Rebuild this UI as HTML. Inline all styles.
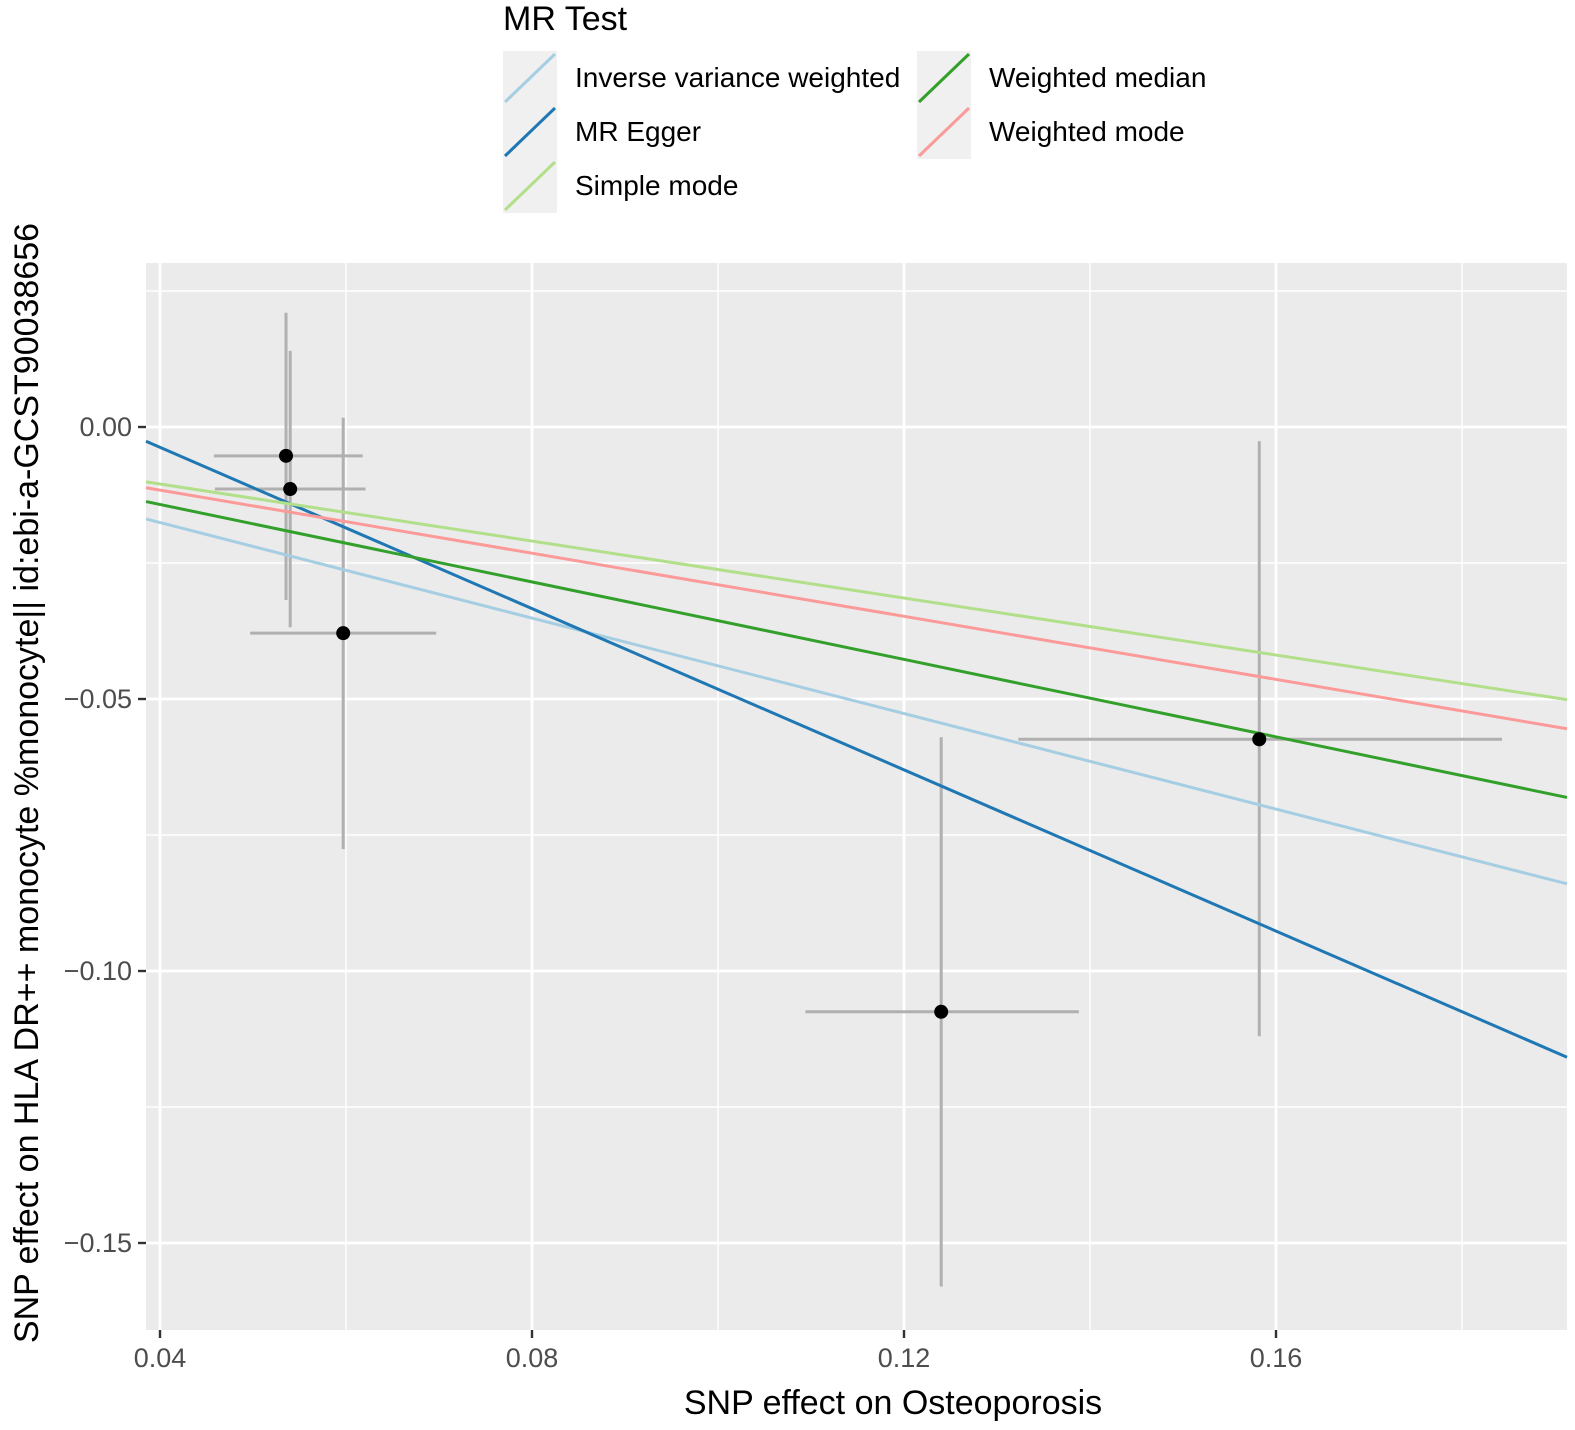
<!DOCTYPE html>
<html><head><meta charset="utf-8"><style>
html,body{margin:0;padding:0;background:#fff;}
svg{display:block;font-family:"Liberation Sans",Arial,sans-serif;}
</style></head><body>
<svg id="chart" width="1575" height="1430" viewBox="0 0 1575 1430" xmlns="http://www.w3.org/2000/svg">
<rect x="146" y="263" width="1421" height="1067" fill="#ebebeb"/>
<g id="grid"></g>
<g id="errbars"></g>
<g id="lines"></g>
<g id="points"></g>
<g id="axes"></g>
<g>
<text x="503" y="30" font-size="34" fill="#000">MR Test</text>
<g id="legend-items"></g>
</g>
<text x="893" y="1414" font-size="34" text-anchor="middle" fill="#000">SNP effect on Osteoporosis</text>
<text transform="translate(38,783) rotate(-90)" font-size="34" text-anchor="middle" fill="#000">SNP effect on HLA DR++ monocyte %monocyte|| id:ebi-a-GCST90038656</text>
</svg>
<script>
const xTicks=[0.04,0.08,0.12,0.16];
const xTickLabels=["0.04","0.08","0.12","0.16"];
const xMinor=[0.06,0.10,0.14,0.18];
const yTicks=[0,-0.05,-0.10,-0.15];
const yTickLabels=["0.00","\u22120.05","\u22120.10","\u22120.15"];
const yMinor=[0.025,-0.025,-0.075,-0.125];
const snpX=[0.05355,0.0540,0.0597,0.1240,0.1582];
const snpY=[-0.0053,-0.0114,-0.0379,-0.1075,-0.0574];
const xLo=[0.0458,0.0459,0.0497,0.1094,0.1323];
const xHi=[0.0618,0.0621,0.0697,0.1388,0.1843];
const yLo=[-0.0318,-0.0368,-0.0776,-0.1580,-0.1120];
const yHi=[0.0210,0.0140,0.0017,-0.0570,-0.0026];
const methods=["Inverse variance weighted","MR Egger","Simple mode","Weighted median","Weighted mode"];
const slopes=[-0.439,-0.741,-0.262,-0.356,-0.290];
const intercepts=[0,0.0259,0,0,0];
const colors=["#A6CEE3","#1F78B4","#B2DF8A","#33A02C","#FB9A99"];

const X0=146,X1=1567,Y0=263,Y1=1330;
const xs=v=>160+(v-0.04)*9300;
const ys=v=>427-v*5440;
const xmin=0.04-(160-X0)/9300, xmax=0.04+(X1-160)/9300;
const NS="http://www.w3.org/2000/svg";
function mk(tag,attrs,parent){const e=document.createElementNS(NS,tag);for(const k in attrs)e.setAttribute(k,attrs[k]);parent.appendChild(e);return e;}
const grid=document.getElementById('grid');
xMinor.forEach(v=>{const l=mk('line',{x1:xs(v),x2:xs(v),y1:Y0,y2:Y1,stroke:'#fff','stroke-width':1.4},grid);

});
yMinor.forEach(v=>{const l=mk('line',{x1:X0,x2:X1,y1:ys(v),y2:ys(v),stroke:'#fff','stroke-width':1.4},grid);

});
xTicks.forEach(v=>{const l=mk('line',{x1:xs(v),x2:xs(v),y1:Y0,y2:Y1,stroke:'#fff','stroke-width':2.8},grid);

});
yTicks.forEach(v=>{const l=mk('line',{x1:X0,x2:X1,y1:ys(v),y2:ys(v),stroke:'#fff','stroke-width':2.8},grid);

});
const eb=document.getElementById('errbars');
snpX.forEach((x,i)=>{
 const h=mk('line',{x1:xs(xLo[i]),x2:xs(xHi[i]),y1:ys(snpY[i]),y2:ys(snpY[i]),stroke:'#b0b0b0','stroke-width':3},eb);
 
 
 const v=mk('line',{x1:xs(x),x2:xs(x),y1:ys(yLo[i]),y2:ys(yHi[i]),stroke:'#b0b0b0','stroke-width':3},eb);
 
 
});
const lg=document.getElementById('lines');
const order=[0,1,2,4,3];
order.forEach(i=>{
 const l=mk('line',{x1:xs(xmin),y1:ys(intercepts[i]+slopes[i]*xmin),x2:xs(xmax),y2:ys(intercepts[i]+slopes[i]*xmax),stroke:colors[i],'stroke-width':3},lg);
 
 
});
const pg=document.getElementById('points');
snpX.forEach((x,i)=>{const c=mk('circle',{cx:xs(x),cy:ys(snpY[i]),r:7,fill:'#000'},pg);

});
const ax=document.getElementById('axes');
xTicks.forEach((v,i)=>{
 const t=mk('line',{x1:xs(v),x2:xs(v),y1:Y1,y2:Y1+8,stroke:'#333','stroke-width':2.4},ax);
 
 
 const tx=mk('text',{x:xs(v),y:Y1+37,'font-size':27,'text-anchor':'middle',fill:'#4d4d4d'},ax);tx.textContent=xTickLabels[i];
 
 
});
yTicks.forEach((v,i)=>{
 const t=mk('line',{x1:X0-8,x2:X0,y1:ys(v),y2:ys(v),stroke:'#333','stroke-width':2.4},ax);
 
 
 const tx=mk('text',{x:X0-14,y:ys(v)+9,'font-size':27,'text-anchor':'end',fill:'#4d4d4d'},ax);tx.textContent=yTickLabels[i];
 
 
});
const li=document.getElementById('legend-items');
const legPos=[[503,51],[503,105],[503,159],[917,51],[917,105]];
methods.forEach((m,i)=>{
 const [x,y]=legPos[i];
 const r=mk('rect',{x:x,y:y,width:54,height:54,fill:'#f0f0f0'},li);
 
 
 const l=mk('line',{x1:x+2,y1:y+51,x2:x+52,y2:y+3,stroke:colors[i],'stroke-width':3},li);
 
 
 const t=mk('text',{x:x+72,y:y+36,'font-size':28,fill:'#000'},li);t.textContent=m;
 
 
});
</script>
</body></html>
